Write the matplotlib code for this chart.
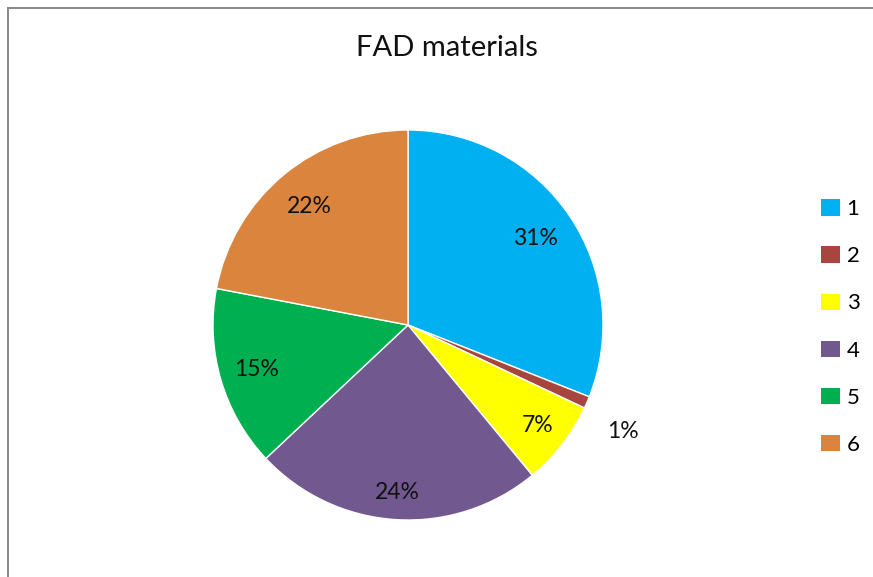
import numpy as np
import matplotlib
matplotlib.use('Agg')
import matplotlib.pyplot as plt
from matplotlib.lines import Line2D
from matplotlib.patches import Patch

plt.rcParams['font.family'] = ['Lato', 'DejaVu Sans']

title = "FAD materials"
categories = ["1", "2", "3", "4", "5", "6"]
shares = [31, 1, 7, 24, 15, 22]
colors = ["#00B0F0", "#A9453F", "#FFFF00", "#71588F", "#00B050", "#DB843D"]
label_dist = [0.79, 1.2, 0.84, 0.86, 0.81, 0.79]

W, H = 873, 577
fig = plt.figure(figsize=(W / 100, H / 100), dpi=100)

# chart frame: only top and left edges fall inside the picture
fig.add_artist(Line2D([7.5 / W, 1.01], [1 - 7.5 / H] * 2, transform=fig.transFigure,
                      color="#888888", linewidth=1.4))
fig.add_artist(Line2D([7.5 / W] * 2, [-0.01, 1 - 7.5 / H], transform=fig.transFigure,
                      color="#888888", linewidth=1.4))

cx, cy, r = 408, 325, 195
ax = fig.add_axes([(cx - r) / W, (H - cy - r) / H, 2 * r / W, 2 * r / H])
wedges, _ = ax.pie(shares, colors=colors, startangle=90, counterclock=False,
                   wedgeprops=dict(linewidth=1, edgecolor="white"))
ax.set_xlim(-1, 1)
ax.set_ylim(-1, 1)
ax.set_aspect('equal')
ax.axis('off')

for w, v, d in zip(wedges, shares, label_dist):
    ang = np.deg2rad((w.theta1 + w.theta2) / 2)
    x, y = d * np.cos(ang), d * np.sin(ang)
    if d > 1:
        y -= 0.07
    ax.text(x, y, f"{v}%", ha='center', va='center',
            fontsize=16.5, color="#111111", clip_on=False)

fig.text(447 / W, 1 - 48 / H, title, ha='center', va='center', fontsize=21, color="#111111")

handles = [Patch(facecolor=c, edgecolor='none') for c in colors]
fig.legend(handles, categories, loc='center left', bbox_to_anchor=(801 / W, 1 - 327 / H),
           frameon=False, fontsize=16, handlelength=0.85, handleheight=0.75,
           handletextpad=0.3, labelspacing=1.22)

fig.savefig("out.png", dpi=100)
